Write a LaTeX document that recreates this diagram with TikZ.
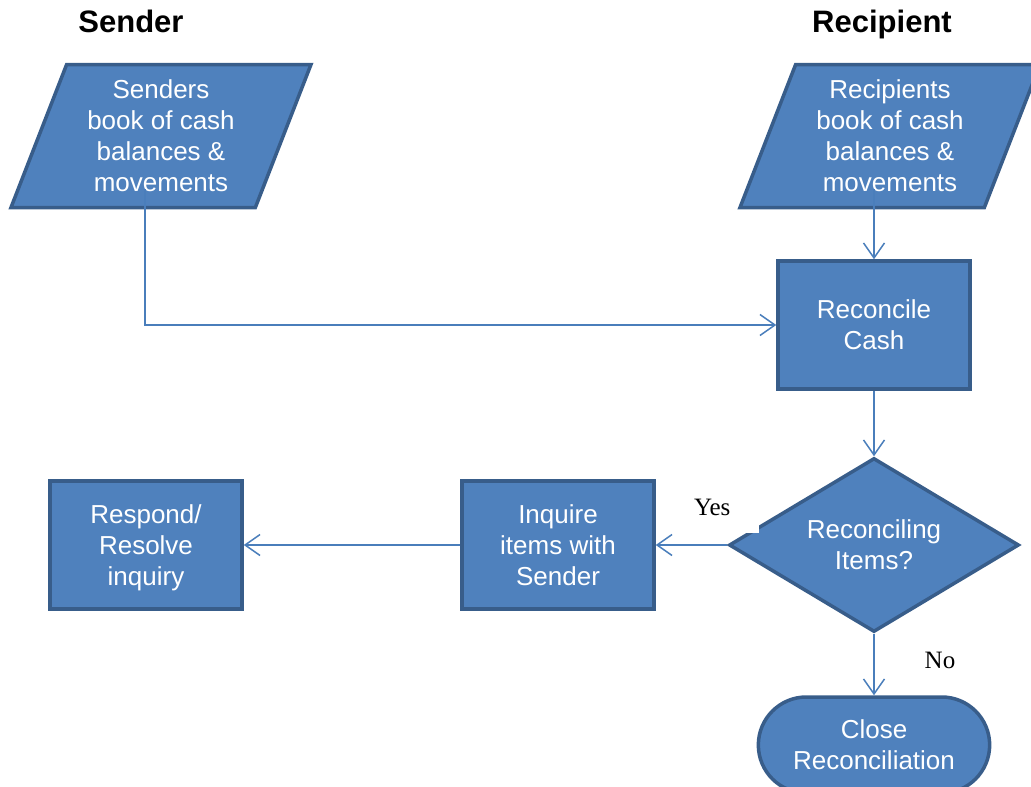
\documentclass[tikz,border=0pt]{standalone}
\usepackage{fontspec}
\setmainfont{Liberation Sans}
\newfontfamily\lblfont{Liberation Serif}
\usepackage{tikz}
\usepackage{xcolor}
\usetikzlibrary{arrows.meta,shapes,positioning,calc}
\definecolor{flowfill}{HTML}{4F81BD}
\definecolor{flowline}{HTML}{385D8A}
\definecolor{flowarrow}{HTML}{4A7EBB}
\tikzset{
    flow-shape/.style={
        draw=flowline,
        fill=flowfill,
        line width=3.5pt,
        text=white,
        align=center,
        font=\fontsize{26}{31}\selectfont
    },
    flow-box/.style={
        flow-shape,
        rectangle,
        minimum width=192pt,
        minimum height=128pt
    },
    flow-data/.style={
        flow-shape,
        trapezium,
        trapezium left angle=64,
        trapezium right angle=116,
        trapezium stretches body,
        minimum width=300pt,
        minimum height=143pt,
        inner sep=1pt
    },
    flow-test/.style={
        flow-shape,
        diamond,
        shape aspect=1.7,
        inner sep=0pt,
        minimum width=290pt,
        minimum height=174pt
    },
    flow-end/.style={
        flow-shape,
        rounded rectangle,
        minimum width=238pt,
        minimum height=96pt
    },
    flow-title/.style={
        font=\bfseries\fontsize{31}{36}\selectfont,
        text height=23pt,
        text depth=7pt
    },
    flow-label/.style={
        font=\lblfont\fontsize{25}{30}\selectfont
    },
    flow-arrow/.style={
        draw=flowarrow,
        line width=1.5pt,
        ->,>={Straight Barb[length=15pt,width=21pt]}
    },
    every edge/.style={
        flow-arrow
    },
}
\begin{document}
\begin{tikzpicture}[x=1pt,y=1pt]
        \useasboundingbox (0,0) rectangle (1031,-787);
        \node [flow-box] (recon) at (874,-325) {Reconcile\\Cash};
        \node [flow-data,node distance=189pt,above of=recon,xshift=16pt] (rcpbook) {Recipients\\book of cash\\balances \&\\movements};
        \node [flow-data,node distance=729pt,left of=rcpbook] (sndbook) {Senders\\book of cash\\balances \&\\movements};
        \node [flow-test,node distance=220pt,below of=recon] (check) {Reconciling\\Items?};
        \node [flow-end,node distance=200pt,below of=check] (close) {Close\\Reconciliation};
        \node [flow-box,node distance=316pt,left of=check] (inquire) {Inquire\\items with\\Sender};
        \node [flow-box,node distance=412pt,left of=inquire] (respond) {Respond/\\Resolve\\\smash{inquiry}};
        \node [flow-title,node distance=112pt,above of=sndbook,xshift=-30pt] (sender) {Sender};
        \node [flow-title,node distance=112pt,above of=rcpbook,xshift=-8pt] (recipient) {Recipient};
        \node [flow-label,fill=white,minimum width=94pt,minimum height=52pt] (yes) at ([xshift=-15pt,yshift=38pt]check.west) {Yes};
        \node [flow-label] (no) at ([xshift=66pt,yshift=-27pt]check.south) {No};
        \draw [flow-arrow] ([xshift=-16pt,yshift=-53pt]sndbook.center) |- (recon.west);
        \draw ([xshift=-16pt,yshift=-53pt]rcpbook.center) edge (recon.north);
        \draw (recon.south) edge (check.north);
        \draw (check.west) edge (inquire.east);
        \draw (inquire.west) edge (respond.east);
        \draw (check.south) edge (close.north);
    \end{tikzpicture}
\end{document}
